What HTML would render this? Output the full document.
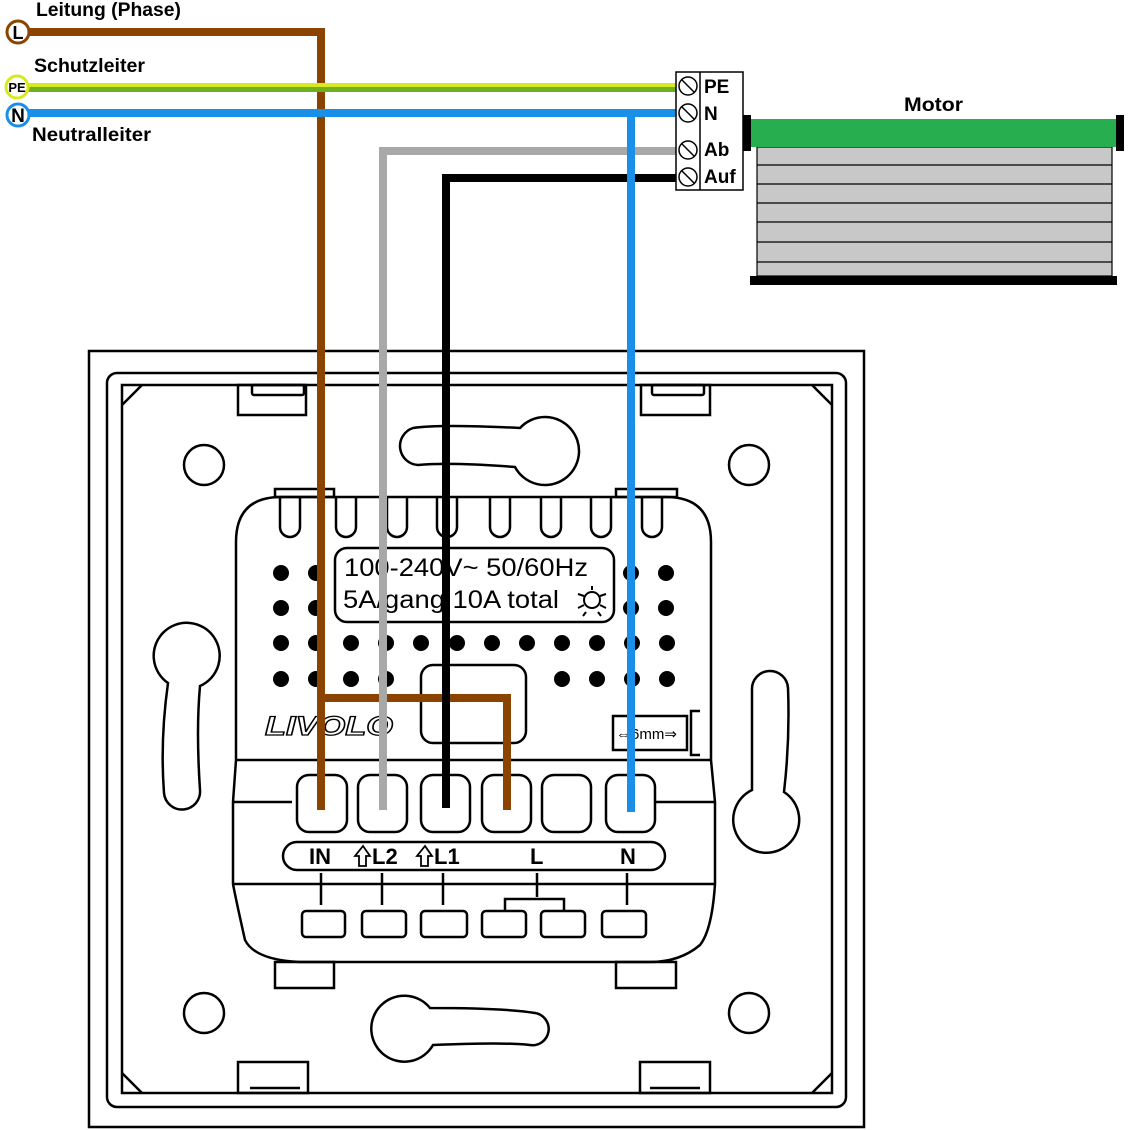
<!DOCTYPE html>
<html><head><meta charset="utf-8"><style>html,body{margin:0;padding:0;background:#fff}svg{display:block}</style></head><body>
<svg width="1128" height="1130" viewBox="0 0 1128 1130" xmlns="http://www.w3.org/2000/svg" font-family="Liberation Sans, sans-serif">
<g fill="none" stroke="#000" stroke-width="2.5">
<rect x="89" y="351" width="775" height="776"/>
<rect x="107" y="373" width="739" height="734" rx="10"/>
<rect x="122" y="385" width="710" height="708"/>
<path d="M122 405 L142 385 M812 385 L832 405 M122 1073 L142 1093 M812 1093 L832 1073"/>
<rect x="238" y="385" width="68" height="30"/><rect x="252" y="385" width="52" height="10" rx="2"/>
<rect x="641" y="385" width="69" height="30"/><rect x="652" y="385" width="52" height="10" rx="2"/>
<rect x="238" y="1062" width="70" height="31"/><line x1="250" y1="1088" x2="300" y2="1088"/>
<rect x="640" y="1062" width="70" height="31"/><line x1="650" y1="1088" x2="700" y2="1088"/>
<circle cx="204" cy="465" r="20"/><circle cx="749" cy="465" r="20"/>
<circle cx="204" cy="1013" r="20"/><circle cx="749" cy="1013" r="20"/>
<path d="M413 428 Q440 424 520 428 A34 34 0 1 1 515 467 Q450 462 418 465 A19 19 0 0 1 413 428 Z"/>
<path d="M535 1013 Q505 1008 430 1008 A33 33 0 1 0 433 1045 Q505 1042 530 1045 A16 16 0 0 0 535 1013 Z"/>
<path d="M168 683 A33 33 0 1 1 200 686 Q196 730 200 790 A18 18 0 0 1 164 793 Q160 740 168 683 Z"/>
<path d="M784 792 A33 33 0 1 1 752 790 Q752 740 752 690 A18 18 0 0 1 788 688 Q790 740 784 792 Z"/>
<rect x="275" y="489" width="59" height="8"/><rect x="616" y="489" width="61" height="8"/>
<path d="M236 760 L236 542 Q236 497 281 497 L666 497 Q711 497 711 542 L711 760 L715 802 L715 884 Q712 930 700 945 Q680 962 650 962 L300 962 Q255 960 245 940 Q236 900 233 884 L233 802 L236 760"/>
<line x1="236" y1="760" x2="711" y2="760"/>
<line x1="233" y1="802" x2="292" y2="802"/><line x1="655" y1="802" x2="715" y2="802"/>
<line x1="233" y1="884" x2="715" y2="884"/>
<rect x="275" y="962" width="59" height="26"/><rect x="616" y="962" width="60" height="26"/>
<path d="M280 497 L280 527 A10 10 0 0 0 300 527 L300 497"/><path d="M336 497 L336 527 A10 10 0 0 0 356 527 L356 497"/>
<path d="M387 497 L387 527 A10 10 0 0 0 407 527 L407 497"/><path d="M437 497 L437 527 A10 10 0 0 0 457 527 L457 497"/>
<path d="M490 497 L490 527 A10 10 0 0 0 510 527 L510 497"/><path d="M541 497 L541 527 A10 10 0 0 0 561 527 L561 497"/>
<path d="M591 497 L591 527 A10 10 0 0 0 611 527 L611 497"/><path d="M642 497 L642 527 A10 10 0 0 0 662 527 L662 497"/>
<rect x="335" y="548" width="279" height="74" rx="12"/>
<rect x="421" y="665" width="105" height="78" rx="12"/>
<rect x="613" y="716" width="74" height="34"/><path d="M700 711 L691 711 L691 755 L700 755"/>
<rect x="297" y="775" width="50" height="57" rx="12"/><rect x="358" y="775" width="49" height="57" rx="12"/>
<rect x="421" y="775" width="49" height="57" rx="12"/><rect x="482" y="775" width="49" height="57" rx="12"/>
<rect x="542" y="775" width="49" height="57" rx="12"/><rect x="606" y="775" width="49" height="57" rx="12"/>
<rect x="283" y="842" width="382" height="28" rx="14"/>
<rect x="302" y="911" width="43" height="26" rx="4"/><rect x="362" y="911" width="44" height="26" rx="4"/>
<rect x="421" y="911" width="46" height="26" rx="4"/><rect x="482" y="911" width="44" height="26" rx="4"/>
<rect x="541" y="911" width="44" height="26" rx="4"/><rect x="602" y="911" width="44" height="26" rx="4"/>
<path d="M321 873 V905 M382 873 V905 M443 873 V905 M537 873 V897 M505 911 V899 H564 V911 M627 873 V905"/>
</g>
<g fill="#000">
<circle cx="281" cy="573" r="8"/><circle cx="316" cy="573" r="8"/><circle cx="631" cy="573" r="8"/><circle cx="666" cy="573" r="8"/>
<circle cx="281" cy="608" r="8"/><circle cx="316" cy="608" r="8"/><circle cx="631" cy="608" r="8"/><circle cx="666" cy="608" r="8"/>
<circle cx="281" cy="643" r="8"/><circle cx="316" cy="643" r="8"/><circle cx="351" cy="643" r="8"/><circle cx="386" cy="643" r="8"/><circle cx="421" cy="643" r="8"/><circle cx="457" cy="643" r="8"/><circle cx="492" cy="643" r="8"/><circle cx="527" cy="643" r="8"/><circle cx="562" cy="643" r="8"/><circle cx="597" cy="643" r="8"/><circle cx="632" cy="643" r="8"/><circle cx="667" cy="643" r="8"/>
<circle cx="281" cy="679" r="8"/><circle cx="316" cy="679" r="8"/><circle cx="351" cy="679" r="8"/><circle cx="386" cy="679" r="8"/><circle cx="562" cy="679" r="8"/><circle cx="597" cy="679" r="8"/><circle cx="632" cy="679" r="8"/><circle cx="667" cy="679" r="8"/>
</g>
<text x="344" y="576" font-size="25" textLength="244" lengthAdjust="spacingAndGlyphs">100-240V~ 50/60Hz</text>
<text x="343" y="608" font-size="25" textLength="216" lengthAdjust="spacingAndGlyphs">5A/gang 10A total</text>
<g fill="none" stroke="#000" stroke-width="2"><circle cx="592" cy="600" r="8"/><path d="M592 586 V590 M578 594 L584 596 M606 594 L600 596 M578 608 L584 605 M606 608 L600 605 M586 612 L583 616 M598 612 L601 616"/></g>
<text x="265" y="735" font-size="27" font-style="italic" font-weight="bold" fill="#fff" stroke="#000" stroke-width="1.3" textLength="128" lengthAdjust="spacingAndGlyphs">LIVOLO</text>
<text x="616" y="739" font-size="15">⇔6mm⇒</text>
<g font-weight="bold" font-size="22"><text x="309" y="864">IN</text><text x="372" y="864">L2</text><text x="434" y="864">L1</text><text x="530" y="864">L</text><text x="620" y="864">N</text></g>
<g fill="none" stroke="#000" stroke-width="1.8"><path d="M363 846 L355 856 H359 V866 H366 V856 H370 Z"/><path d="M425 846 L417 856 H421 V866 H428 V856 H432 Z"/></g>
<g fill="none" stroke-width="8">
<path d="M321 810 V698 H507 V810" stroke="#8b4400"/>
<path d="M30 32 H321 V810" stroke="#8b4400"/>
<path d="M383 810 V151 H676" stroke="#a8a8a8"/>
<path d="M446 808 V178 H676" stroke="#000"/>
<path d="M28 113 H676" stroke="#1a8fe8"/>
<path d="M631 812 V113" stroke="#1a8fe8"/>
</g>
<rect x="28" y="83" width="648" height="4" fill="#d7ea20"/><rect x="28" y="87" width="648" height="5" fill="#6db020"/>
<circle cx="18" cy="32" r="11" fill="#fff" stroke="#8b4400" stroke-width="3"/>
<circle cx="17" cy="87" r="11" fill="#fff" stroke="#d7ea20" stroke-width="3"/>
<circle cx="18" cy="115" r="11" fill="#fff" stroke="#1a8fe8" stroke-width="3"/>
<g font-weight="bold" text-anchor="middle"><text x="18" y="39" font-size="18">L</text><text x="17" y="92" font-size="13">PE</text><text x="18" y="122" font-size="19">N</text></g>
<g font-weight="bold" font-size="19">
<text x="36" y="16" textLength="145" lengthAdjust="spacingAndGlyphs">Leitung (Phase)</text>
<text x="34" y="72" textLength="111" lengthAdjust="spacingAndGlyphs">Schutzleiter</text>
<text x="32" y="141" textLength="119" lengthAdjust="spacingAndGlyphs">Neutralleiter</text>
<text x="904" y="111" textLength="59" lengthAdjust="spacingAndGlyphs">Motor</text></g>
<rect x="676" y="72" width="67" height="118" fill="#fff" stroke="#000" stroke-width="1.5"/>
<line x1="700" y1="72" x2="700" y2="190" stroke="#000" stroke-width="1.5"/>
<g fill="none" stroke="#000" stroke-width="1.5"><circle cx="688" cy="86" r="9"/><circle cx="688" cy="113" r="9"/><circle cx="688" cy="150" r="9"/><circle cx="688" cy="177" r="9"/>
<path d="M682 80 L694 92 M682 107 L694 119 M682 144 L694 156 M682 171 L694 183"/></g>
<g font-weight="bold" font-size="19"><text x="704" y="93">PE</text><text x="704" y="120">N</text><text x="704" y="156">Ab</text><text x="704" y="183">Auf</text></g>
<rect x="757" y="147" width="355" height="129" fill="#c8c8c8" stroke="#000" stroke-width="1.2"/>
<path d="M757 165 H1112 M757 184 H1112 M757 203 H1112 M757 222 H1112 M757 242 H1112 M757 262 H1112" stroke="#000" stroke-width="1.2"/>
<rect x="748" y="119" width="372" height="28" fill="#27ae4f"/>
<rect x="743" y="115" width="8" height="36" fill="#000"/><rect x="1116" y="115" width="8" height="36" fill="#000"/>
<rect x="750" y="276" width="367" height="9" fill="#000"/>
</svg>
</body></html>
